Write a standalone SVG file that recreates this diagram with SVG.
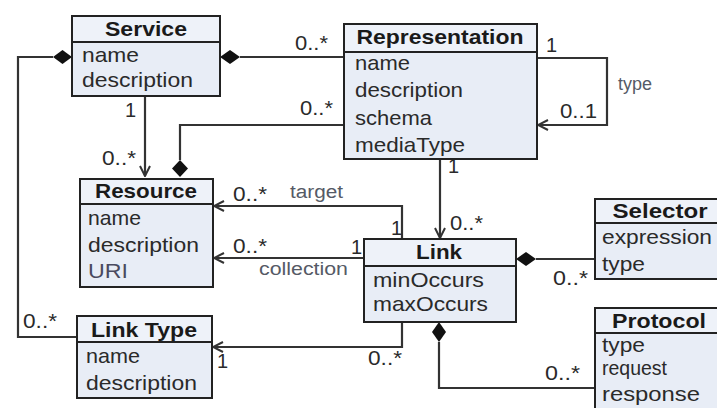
<svg xmlns="http://www.w3.org/2000/svg" width="717" height="408" viewBox="0 0 717 408">
<defs>
<style>
.box{fill:#e8edf6;stroke:#222;stroke-width:2}
.hdr{fill:#eef2f9;stroke:#222;stroke-width:2}
.t{font-family:"Liberation Sans",Arial,sans-serif;font-size:21px;font-weight:bold;fill:#1a1a1a;text-anchor:middle}
.a{font-family:"Liberation Sans",Arial,sans-serif;font-size:21px;fill:#2a2a2a}
.lbl{font-family:"Liberation Sans",Arial,sans-serif;font-size:20px;fill:#2a2a2a}
.role{font-family:"Liberation Sans",Arial,sans-serif;font-size:18px;fill:#555a66}
.c{fill:none;stroke:#333;stroke-width:2.2}
</style>
<marker id="arr" viewBox="0 0 12 12" refX="11" refY="6" markerWidth="12" markerHeight="12" markerUnits="userSpaceOnUse" orient="auto">
<path d="M1,1 L11,6 L1,11" fill="none" stroke="#333" stroke-width="2"/>
</marker>
</defs>

<g id="connectors">
<!-- Service - Representation -->
<path class="c" d="M344,57 L240,57"/>
<path d="M220,57 L230,50 L240,57 L230,64 Z" fill="#111"/>
<!-- Service left loop to Link Type -->
<path class="c" d="M53,57 L18,57 L18,337 L77,337"/>
<path d="M72,57 L62.5,50 L53,57 L62.5,64 Z" fill="#111"/>
<!-- Service to Resource -->
<path class="c" d="M145,96 L145,176" marker-end="url(#arr)"/>
<!-- Representation to Resource -->
<path class="c" d="M344,125 L180,125 L180,160"/>
<path d="M180,160 L188,168.5 L180,177 L172,168.5 Z" fill="#111"/>
<!-- Representation self loop -->
<path class="c" d="M537,58 L607,58 L607,125 L538,125" marker-end="url(#arr)"/>
<!-- Representation to Link -->
<path class="c" d="M440,159 L440,238" marker-end="url(#arr)"/>
<!-- Link target -->
<path class="c" d="M402,239 L402,206 L214,206" marker-end="url(#arr)"/>
<!-- Link collection -->
<path class="c" d="M364,258 L214,258" marker-end="url(#arr)"/>
<!-- Link to Link Type -->
<path class="c" d="M402,322 L402,347 L213,347" marker-end="url(#arr)"/>
<!-- Link - Selector -->
<path class="c" d="M536,259 L595,259"/>
<path d="M516,259 L526,252 L536,259 L526,266 Z" fill="#111"/>
<!-- Link - Protocol -->
<path class="c" d="M439,342 L439,388 L595,388"/>
<path d="M439,322 L446,332 L439,342 L432,332 Z" fill="#111"/>

<!-- multiplicities and roles -->
<text class="lbl" x="295" y="50" textLength="33" lengthAdjust="spacingAndGlyphs">0..*</text>
<text class="lbl" x="300" y="115" textLength="33" lengthAdjust="spacingAndGlyphs">0..*</text>
<text class="lbl" x="125" y="117">1</text>
<text class="lbl" x="102" y="165" textLength="34" lengthAdjust="spacingAndGlyphs">0..*</text>
<text class="lbl" x="546" y="52">1</text>
<text class="role" x="618" y="90">type</text>
<text class="lbl" x="560" y="118" textLength="37" lengthAdjust="spacingAndGlyphs">0..1</text>
<text class="lbl" x="448" y="173">1</text>
<text class="lbl" x="450" y="230" textLength="33" lengthAdjust="spacingAndGlyphs">0..*</text>
<text class="lbl" x="233" y="201" textLength="34" lengthAdjust="spacingAndGlyphs">0..*</text>
<text class="role" x="290" y="198" textLength="53" lengthAdjust="spacingAndGlyphs">target</text>
<text class="lbl" x="391" y="235">1</text>
<text class="lbl" x="233" y="253" textLength="34" lengthAdjust="spacingAndGlyphs">0..*</text>
<text class="lbl" x="351" y="254">1</text>
<text class="role" x="259" y="275" textLength="89" lengthAdjust="spacingAndGlyphs">collection</text>
<text class="lbl" x="217" y="368">1</text>
<text class="lbl" x="368" y="365" textLength="34" lengthAdjust="spacingAndGlyphs">0..*</text>
<text class="lbl" x="23" y="328" textLength="34" lengthAdjust="spacingAndGlyphs">0..*</text>
<text class="lbl" x="553" y="285" textLength="35" lengthAdjust="spacingAndGlyphs">0..*</text>
<text class="lbl" x="545" y="380" textLength="35" lengthAdjust="spacingAndGlyphs">0..*</text>
</g>

<g id="service">
<rect class="box" x="72" y="16" width="148" height="80"/>
<rect class="hdr" x="72" y="16" width="148" height="26"/>
<text class="t" x="146" y="36" textLength="82" lengthAdjust="spacingAndGlyphs">Service</text>
<text class="a" x="82" y="62" textLength="57" lengthAdjust="spacingAndGlyphs">name</text>
<text class="a" x="82" y="87" textLength="111" lengthAdjust="spacingAndGlyphs">description</text>
</g>

<g id="representation">
<rect class="box" x="344" y="24" width="193" height="135"/>
<rect class="hdr" x="344" y="24" width="193" height="28"/>
<text class="t" x="440" y="44" textLength="167" lengthAdjust="spacingAndGlyphs">Representation</text>
<text class="a" x="355" y="70" textLength="55" lengthAdjust="spacingAndGlyphs">name</text>
<text class="a" x="355" y="97" textLength="108" lengthAdjust="spacingAndGlyphs">description</text>
<text class="a" x="355" y="125" textLength="77" lengthAdjust="spacingAndGlyphs">schema</text>
<text class="a" x="355" y="152" textLength="110" lengthAdjust="spacingAndGlyphs">mediaType</text>
</g>

<g id="resource">
<rect class="box" x="80" y="179" width="133" height="108"/>
<rect class="hdr" x="80" y="179" width="133" height="25"/>
<text class="t" x="146" y="198" textLength="102" lengthAdjust="spacingAndGlyphs">Resource</text>
<text class="a" x="88" y="225" textLength="53" lengthAdjust="spacingAndGlyphs">name</text>
<text class="a" x="88" y="252" textLength="111" lengthAdjust="spacingAndGlyphs">description</text>
<text class="a" x="88" y="278" textLength="40" lengthAdjust="spacingAndGlyphs" style="fill:#4a4a60">URI</text>
</g>

<g id="linktype">
<rect class="box" x="77" y="316" width="135" height="82"/>
<rect class="hdr" x="77" y="316" width="135" height="26"/>
<text class="t" x="144" y="337" textLength="106" lengthAdjust="spacingAndGlyphs">Link Type</text>
<text class="a" x="86" y="363" textLength="54" lengthAdjust="spacingAndGlyphs">name</text>
<text class="a" x="86" y="390" textLength="111" lengthAdjust="spacingAndGlyphs">description</text>
</g>

<g id="link">
<rect class="box" x="364" y="239" width="152" height="83"/>
<rect class="hdr" x="364" y="239" width="152" height="27"/>
<text class="t" x="439" y="259" textLength="46" lengthAdjust="spacingAndGlyphs">Link</text>
<text class="a" x="373" y="287" textLength="111" lengthAdjust="spacingAndGlyphs">minOccurs</text>
<text class="a" x="373" y="311" textLength="115" lengthAdjust="spacingAndGlyphs">maxOccurs</text>
</g>

<g id="selector">
<rect class="box" x="595" y="199" width="130" height="80"/>
<rect class="hdr" x="595" y="199" width="130" height="24"/>
<text class="t" x="660" y="218" textLength="95" lengthAdjust="spacingAndGlyphs">Selector</text>
<text class="a" x="602" y="244" textLength="110" lengthAdjust="spacingAndGlyphs">expression</text>
<text class="a" x="602" y="271" textLength="43" lengthAdjust="spacingAndGlyphs">type</text>
</g>

<g id="protocol">
<rect class="box" x="595" y="308" width="130" height="110"/>
<rect class="hdr" x="595" y="308" width="130" height="25"/>
<text class="t" x="659" y="328" textLength="94" lengthAdjust="spacingAndGlyphs">Protocol</text>
<text class="a" x="602" y="352" textLength="43" lengthAdjust="spacingAndGlyphs">type</text>
<text class="a" x="602" y="375" textLength="65" lengthAdjust="spacingAndGlyphs">request</text>
<text class="a" x="602" y="401" textLength="98" lengthAdjust="spacingAndGlyphs">response</text>
</g>
</svg>
